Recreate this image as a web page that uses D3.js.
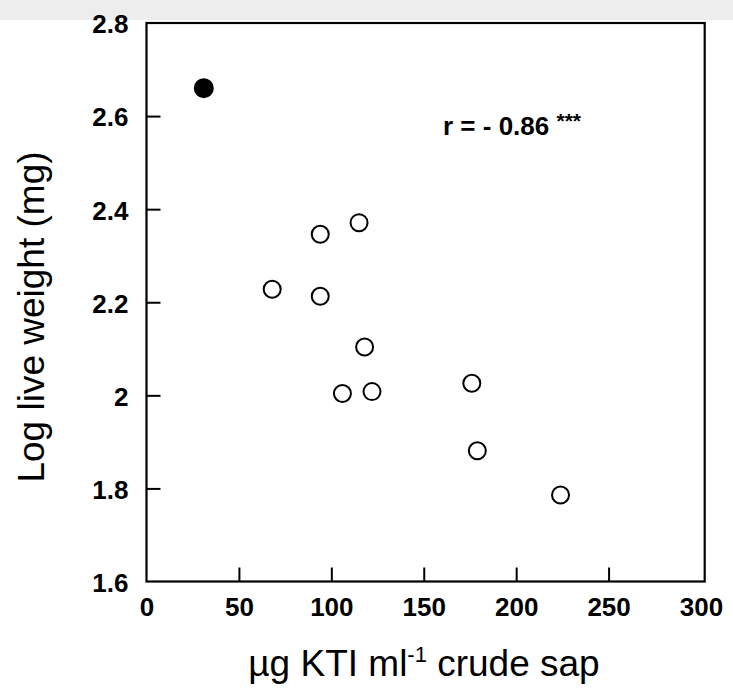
<!DOCTYPE html>
<html>
<head>
<meta charset="utf-8">
<script src="https://cdn.jsdelivr.net/npm/d3@7"></script>
<style>
  body { margin: 0; background: #fff; }
  svg { display: block; font-family: "Liberation Sans", Arial, Helvetica, sans-serif; }
</style>
</head>
<body>
<div id="chart"></div>
<script>
// data
var kti = [31, 68, 94, 94, 106, 115, 118, 122, 176, 179, 224];
var logWeight = [2.66, 2.228, 2.346, 2.213, 2.004, 2.371, 2.104, 2.008, 2.026, 1.881, 1.786];
var filled = [true, false, false, false, false, false, false, false, false, false, false];
var xTicks = [0, 50, 100, 150, 200, 250, 300];
var yTicks = [1.6, 1.8, 2, 2.2, 2.4, 2.6, 2.8];
var xTickLabels = ["0", "50", "100", "150", "200", "250", "300"];
var yTickLabels = ["1.6", "1.8", "2", "2.2", "2.4", "2.6", "2.8"];

var width = 733, height = 695;

var svg = d3.select("#chart").append("svg")
    .attr("width", width)
    .attr("height", height);

// light grey band at the very top of the scan
svg.append("rect")
    .attr("x", 0).attr("y", 0)
    .attr("width", width).attr("height", 20)
    .style("fill", "#ededed");

var x = d3.scaleLinear().domain([0, 300]).range([146.5, 701]);
var y = d3.scaleLinear().domain([1.6, 2.8]).range([581.5, 23]);
var xRight = 302; // frame goes a little past 300

// frame
svg.append("rect")
    .attr("x", x(0))
    .attr("y", y(2.8))
    .attr("width", x(xRight) - x(0))
    .attr("height", y(1.6) - y(2.8))
    .style("fill", "none")
    .style("stroke", "#000")
    .style("stroke-width", 2.2);

// x axis, ticks pointing inward
var xAxis = d3.axisBottom(x)
    .tickValues(xTicks)
    .tickSizeInner(-14)
    .tickSizeOuter(0)
    .tickPadding(16)
    .tickFormat(function(d, i) { return xTickLabels[i]; });

var gx = svg.append("g")
    .attr("transform", "translate(0," + y(1.6) + ")")
    .call(xAxis);
gx.select(".domain").remove();
gx.selectAll("line").style("stroke", "#000").style("stroke-width", 2)
    .filter(function(d) { return d === 0 || d === 300; }).remove();
gx.selectAll("text")
    .style("font-size", "26px")
    .style("font-weight", "bold")
    .style("fill", "#000");

// y axis
var yAxis = d3.axisLeft(y)
    .tickValues(yTicks)
    .tickSizeInner(-14)
    .tickSizeOuter(0)
    .tickPadding(18)
    .tickFormat(function(d, i) { return yTickLabels[i]; });

var gy = svg.append("g")
    .attr("transform", "translate(" + x(0) + ",0)")
    .call(yAxis);
gy.select(".domain").remove();
gy.selectAll("line").style("stroke", "#000").style("stroke-width", 2)
    .filter(function(d) { return d === 1.6 || d === 2.8; }).remove();
gy.selectAll("text")
    .style("font-size", "26px")
    .style("font-weight", "bold")
    .style("fill", "#000")
    .attr("dy", "0.38em");

// points
svg.selectAll("circle.pt")
    .data(kti)
    .enter().append("circle")
    .attr("class", "pt")
    .attr("cx", function(d) { return x(d); })
    .attr("cy", function(d, i) { return y(logWeight[i]); })
    .attr("r", function(d, i) { return filled[i] ? 9 : 8.5; })
    .style("fill", function(d, i) { return filled[i] ? "#000" : "#fff"; })
    .style("stroke", "#000")
    .style("stroke-width", 2);

// correlation note
var note = svg.append("text")
    .attr("x", 443)
    .attr("y", 135)
    .style("font-size", "26px")
    .style("font-weight", "bold")
    .style("fill", "#000");
note.append("tspan").text("r = - 0.86 ");
note.append("tspan")
    .attr("dy", -7)
    .style("font-size", "21px")
    .text("***");

// axis titles
var xt = svg.append("text")
    .attr("x", 424)
    .attr("y", 676)
    .attr("text-anchor", "middle")
    .style("font-size", "37px")
    .style("fill", "#000");
xt.append("tspan").text("\u00b5g KTI ml");
xt.append("tspan").attr("dy", -14).style("font-size", "22px").text("-1");
xt.append("tspan").attr("dy", 14).text(" crude sap");

svg.append("text")
    .attr("transform", "translate(44,317) rotate(-90)")
    .attr("text-anchor", "middle")
    .style("font-size", "37px")
    .style("fill", "#000")
    .text("Log live weight (mg)");
</script>
</body>
</html>
